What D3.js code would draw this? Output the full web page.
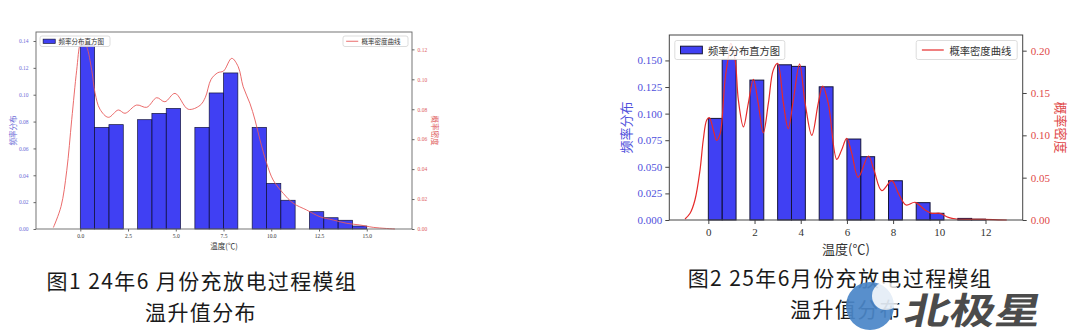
<!DOCTYPE html>
<html>
<head>
<meta charset="utf-8">
<script src="https://cdn.jsdelivr.net/npm/d3@7.9.0/dist/d3.min.js"></script>
<style>
  body { margin: 0; background: #fff; }
  svg { display: block; }
</style>
</head>
<body>
<svg id="chart" width="1080" height="336"></svg>
<script>
// ---- 图1: 24年6月 ----
const bins1 = [0, 0.75, 1.5, 2.25, 3, 3.75, 4.5, 5.25, 6, 6.75, 7.5, 8.25, 9, 9.75, 10.5, 11.25, 12, 12.75, 13.5, 14.25];
const freq1 = [0.137, 0.0757, 0.0777, 0, 0.0814, 0.0861, 0.0898, 0, 0.0757, 0.1013, 0.1162, 0, 0.0757, 0.034, 0.0214, 0, 0.0129, 0.0084, 0.0065, 0.0022];
const kdeX1 = [-1.41, -1.01, -0.71, -0.45, -0.19, 0.0, 0.12, 0.33, 0.60, 0.77, 1.03, 1.47, 1.99, 2.34, 2.95, 3.48, 4.0, 4.43, 4.96, 5.65, 6.27, 6.55, 6.85, 7.2, 7.5, 7.93, 8.27, 8.53, 8.88, 9.15, 9.41, 9.76, 10.1, 10.63, 11.15, 11.85, 12.55, 13.25, 13.95, 14.64, 15.34, 16.48];
const kdeY1 = [0.001, 0.015, 0.039, 0.073, 0.106, 0.124, 0.126, 0.122, 0.106, 0.091, 0.080, 0.0746, 0.0795, 0.0773, 0.0828, 0.0813, 0.0877, 0.085, 0.0906, 0.080, 0.0826, 0.088, 0.100, 0.1044, 0.1055, 0.114, 0.1084, 0.095, 0.084, 0.0728, 0.0595, 0.0439, 0.0327, 0.0238, 0.0172, 0.0127, 0.0082, 0.006, 0.0038, 0.0027, 0.0011, 0.0];
const xTicks1 = [0, 2.5, 5, 7.5, 10, 12.5, 15];
const xLabels1 = ['0.0', '2.5', '5.0', '7.5', '10.0', '12.5', '15.0'];
const yLeftTicks1 = [0, 0.02, 0.04, 0.06, 0.08, 0.10, 0.12, 0.14];
const yLeftLabels1 = ['0.00', '0.02', '0.04', '0.06', '0.08', '0.10', '0.12', '0.14'];
const yRightTicks1 = [0, 0.02, 0.04, 0.06, 0.08, 0.10, 0.12];
const yRightLabels1 = ['0.00', '0.02', '0.04', '0.06', '0.08', '0.10', '0.12'];

// ---- 图2: 25年6月 ----
const bins2 = [0, 0.6, 1.2, 1.8, 2.4, 3.0, 3.6, 4.2, 4.8, 5.4, 6.0, 6.6, 7.2, 7.8, 8.4, 9.0, 9.6, 10.2, 10.8, 11.4];
const freq2 = [0.0955, 0.151, 0, 0.1315, 0, 0.1459, 0.1444, 0, 0.1252, 0, 0.0761, 0.0595, 0, 0.0369, 0, 0.0163, 0.0063, 0, 0.0015, 0.0008];
const kdeX2 = [-1.01, -0.79, -0.58, -0.36, -0.22, -0.07, 0.04, 0.22, 0.36, 0.51, 0.72, 0.87, 0.97, 1.16, 1.30, 1.52, 1.73, 1.95, 2.16, 2.38, 2.60, 2.81, 3.0, 3.25, 3.46, 3.68, 3.95, 4.19, 4.48, 4.76, 4.95, 5.19, 5.56, 5.77, 5.99, 6.21, 6.49, 6.93, 7.17, 7.51, 7.94, 8.23, 8.56, 8.95, 9.38, 9.67, 10.03, 10.39, 10.75, 11.47, 12.34, 12.92];
const kdeY2 = [0.0012, 0.0079, 0.0236, 0.059, 0.0945, 0.118, 0.121, 0.106, 0.094, 0.102, 0.165, 0.193, 0.2087, 0.189, 0.1417, 0.110, 0.1378, 0.166, 0.1378, 0.103, 0.138, 0.177, 0.185, 0.138, 0.108, 0.1417, 0.184, 0.138, 0.100, 0.138, 0.158, 0.138, 0.0717, 0.0827, 0.0965, 0.0787, 0.0504, 0.0756, 0.059, 0.0346, 0.0464, 0.0315, 0.0177, 0.0209, 0.0118, 0.0079, 0.0079, 0.0031, 0.0012, 0.0008, 0.0004, 0];
const xTicks2 = [0, 2, 4, 6, 8, 10, 12];
const xLabels2 = ['0', '2', '4', '6', '8', '10', '12'];
const yLeftTicks2 = [0, 0.025, 0.05, 0.075, 0.1, 0.125, 0.15];
const yLeftLabels2 = ['0.000', '0.025', '0.050', '0.075', '0.100', '0.125', '0.150'];
const yRightTicks2 = [0, 0.05, 0.1, 0.15, 0.2];
const yRightLabels2 = ['0.00', '0.05', '0.10', '0.15', '0.20'];

const histName = '频率分布直方图';
const kdeName = '概率密度曲线';
const xTitle = '温度(℃)';
const yLeftTitle = '频率分布';
const yRightTitle = '概率密度';
const captions1 = ['图1 24年6 月份充放电过程模组', '温升值分布'];
const captions2 = ['图2 25年6月份充放电过程模组', '温升值分布'];

const svg = d3.select('#chart');
const cjk = '"Noto Sans CJK SC", "Noto Sans", sans-serif';
const numFont = '"Liberation Serif", "DejaVu Serif", serif';

function drawPanel(p) {
  const g = svg.append('g');
  const x = d3.scaleLinear().domain(p.xDomain).range([p.left, p.right]);
  const yL = d3.scaleLinear().domain(p.yLeft).range([p.bottom, p.top]);
  const yR = d3.scaleLinear().domain(p.yRight).range([p.bottom, p.top]);

  // histogram bars (empty bins are skipped)
  const bars = p.bins.map((b, i) => ({ x0: b, x1: b + p.binWidth, v: p.freq[i] }))
    .filter((d) => d.v > 0);
  g.selectAll('rect.bar')
    .data(bars)
    .enter()
    .append('rect')
    .attr('class', 'bar')
    .attr('x', (d) => x(d.x0))
    .attr('width', (d) => x(d.x1) - x(d.x0))
    .attr('y', (d) => yL(d.v))
    .attr('height', (d) => yL(0) - yL(d.v))
    .attr('fill', 'rgba(10,10,240,0.78)')
    .attr('stroke', '#15153a')
    .attr('stroke-width', p.barStroke);

  // density curve
  const line = d3.line()
    .x((d) => x(d[0]))
    .y((d) => yR(d[1]))
    .curve(d3.curveCatmullRom.alpha(0.5));
  g.append('path')
    .datum(p.kdeX.map((v, i) => [v, p.kdeY[i]]))
    .attr('d', line)
    .attr('fill', 'none')
    .attr('stroke', p.curveColor)
    .attr('stroke-width', p.curveWidth);

  // axes
  const fmt = (labels, ticks) => (d) => labels[ticks.indexOf(d)];
  const xAxis = g.append('g')
    .attr('transform', `translate(0,${p.bottom})`)
    .call(d3.axisBottom(x).tickValues(p.xTicks).tickFormat(fmt(p.xLabels, p.xTicks))
      .tickSize(p.tickLen).tickSizeOuter(0).tickPadding(p.xPad));
  xAxis.selectAll('text').attr('fill', '#333');

  const leftAxis = g.append('g')
    .attr('transform', `translate(${p.left},0)`)
    .call(d3.axisLeft(yL).tickValues(p.yLeftTicks).tickFormat(fmt(p.yLeftLabels, p.yLeftTicks))
      .tickSize(p.tickLen).tickSizeOuter(0).tickPadding(p.leftPad));
  leftAxis.selectAll('text').attr('fill', p.blue);

  const rightAxis = g.append('g')
    .attr('transform', `translate(${p.right},0)`)
    .call(d3.axisRight(yR).tickValues(p.yRightTicks).tickFormat(fmt(p.yRightLabels, p.yRightTicks))
      .tickSize(p.tickLen).tickSizeOuter(0).tickPadding(p.rightPad));
  rightAxis.selectAll('text').attr('fill', p.red);

  [xAxis, leftAxis, rightAxis].forEach((a) => {
    a.select('.domain').remove();
    a.selectAll('line').attr('stroke', p.spine);
    a.selectAll('text').attr('font-family', numFont).attr('font-size', p.tickFont);
  });

  // spines
  g.append('rect')
    .attr('x', p.left).attr('y', p.top)
    .attr('width', p.right - p.left).attr('height', p.bottom - p.top)
    .attr('fill', 'none').attr('stroke', p.spine).attr('stroke-width', p.spineWidth);

  // axis titles
  g.append('text')
    .attr('x', (p.left + p.right) / 2).attr('y', p.xTitleY)
    .attr('text-anchor', 'middle').attr('dominant-baseline', 'central')
    .attr('font-family', cjk).attr('font-size', p.titleFont).attr('fill', '#333')
    .text(xTitle);
  g.append('text')
    .attr('transform', `translate(${p.yLeftTitleX},${(p.top + p.bottom) / 2}) rotate(-90)`)
    .attr('text-anchor', 'middle').attr('dominant-baseline', 'central')
    .attr('font-family', cjk).attr('font-size', p.titleFont).attr('fill', p.blue)
    .text(yLeftTitle);
  g.append('text')
    .attr('transform', `translate(${p.yRightTitleX},${(p.top + p.bottom) / 2}) rotate(90)`)
    .attr('text-anchor', 'middle').attr('dominant-baseline', 'central')
    .attr('font-family', cjk).attr('font-size', p.titleFont).attr('fill', p.red)
    .text(yRightTitle);

  // legends
  const lg1 = g.append('g').attr('transform', `translate(${p.left + p.legPad},${p.top + p.legPad})`);
  lg1.append('rect')
    .attr('width', p.leg1W).attr('height', p.legH).attr('rx', 2)
    .attr('fill', 'rgba(255,255,255,0.85)').attr('stroke', '#d4d4d4').attr('stroke-width', 0.8);
  lg1.append('rect')
    .attr('x', p.legH * 0.3).attr('y', p.legH * 0.3)
    .attr('width', p.legH * 1.15).attr('height', p.legH * 0.4)
    .attr('fill', 'rgba(10,10,240,0.78)').attr('stroke', '#15153a').attr('stroke-width', p.barStroke);
  lg1.append('text')
    .attr('x', p.legH * 1.75).attr('y', p.legH / 2)
    .attr('dominant-baseline', 'central')
    .attr('font-family', cjk).attr('font-size', p.legFont).attr('fill', '#333')
    .text(histName);

  const lg2 = g.append('g').attr('transform', `translate(${p.right - p.legPad - p.leg2W},${p.top + p.legPad})`);
  lg2.append('rect')
    .attr('width', p.leg2W).attr('height', p.legH).attr('rx', 2)
    .attr('fill', 'rgba(255,255,255,0.85)').attr('stroke', '#d4d4d4').attr('stroke-width', 0.8);
  lg2.append('line')
    .attr('x1', p.legH * 0.3).attr('x2', p.legH * 1.45)
    .attr('y1', p.legH / 2).attr('y2', p.legH / 2)
    .attr('stroke', p.curveColor).attr('stroke-width', p.curveWidth);
  lg2.append('text')
    .attr('x', p.legH * 1.75).attr('y', p.legH / 2)
    .attr('dominant-baseline', 'central')
    .attr('font-family', cjk).attr('font-size', p.legFont).attr('fill', '#333')
    .text(kdeName);

  // caption under the chart
  p.captions.forEach((c, i) => {
    svg.append('text')
      .attr('x', p.capX[i]).attr('y', p.capY[i])
      .attr('text-anchor', 'middle').attr('dominant-baseline', 'central')
      .attr('font-family', cjk).attr('font-size', 21).attr('letter-spacing', 1.4)
      .attr('fill', '#1a1a1a')
      .text(c);
  });
}

drawPanel({
  bins: bins1, binWidth: 0.75, freq: freq1, kdeX: kdeX1, kdeY: kdeY1,
  xTicks: xTicks1, xLabels: xLabels1,
  yLeftTicks: yLeftTicks1, yLeftLabels: yLeftLabels1,
  yRightTicks: yRightTicks1, yRightLabels: yRightLabels1,
  left: 36, right: 412, top: 32, bottom: 229,
  xDomain: [-2.32, 17.37], yLeft: [0, 0.1467], yRight: [0, 0.1316],
  tickLen: 2.5, tickFont: 5.5, xPad: 2.5, leftPad: 5, rightPad: 3,
  titleFont: 7.5, xTitleY: 245, yLeftTitleX: 12, yRightTitleX: 435,
  legPad: 4, legH: 10.5, leg1W: 70, leg2W: 65, legFont: 6.5,
  barStroke: 0.7, curveColor: '#e85a5a', curveWidth: 0.9,
  spine: '#666', spineWidth: 0.9, blue: '#6c6cd8', red: '#e06060',
  captions: captions1, capX: [202, 201], capY: [280, 311]
});

drawPanel({
  bins: bins2, binWidth: 0.6, freq: freq2, kdeX: kdeX2, kdeY: kdeY2,
  xTicks: xTicks2, xLabels: xLabels2,
  yLeftTicks: yLeftTicks2, yLeftLabels: yLeftLabels2,
  yRightTicks: yRightTicks2, yRightLabels: yRightLabels2,
  left: 669.3, right: 1022.7, top: 35, bottom: 220,
  xDomain: [-1.69, 13.61], yLeft: [0, 0.1739], yRight: [0, 0.2185],
  tickLen: 4, tickFont: 11, xPad: 4, leftPad: 3, rightPad: 4,
  titleFont: 13, xTitleY: 248, yLeftTitleX: 625, yRightTitleX: 1061,
  legPad: 5.5, legH: 19, leg1W: 110, leg2W: 101, legFont: 10.3,
  barStroke: 1, curveColor: '#e62a2a', curveWidth: 1.2,
  spine: '#444', spineWidth: 1, blue: '#5050dc', red: '#e04848',
  captions: captions2, capX: [840, 846], capY: [277, 308]
});

// watermark
const wm = svg.append('g').attr('opacity', 0.92);
wm.append('circle').attr('cx', 870).attr('cy', 306).attr('r', 24).attr('fill', '#4a86c8');
wm.append('circle').attr('cx', 886).attr('cy', 296).attr('r', 14).attr('fill', '#fff').attr('opacity', 0.85);
wm.append('text')
  .attr('transform', 'translate(906,308) scale(1.3,1.05) skewX(-10)')
  .attr('dominant-baseline', 'central')
  .attr('font-family', cjk).attr('font-weight', 'bold').attr('font-size', 35)
  .attr('fill', '#3c3c3c')
  .text('北极星');
</script>
</body>
</html>
